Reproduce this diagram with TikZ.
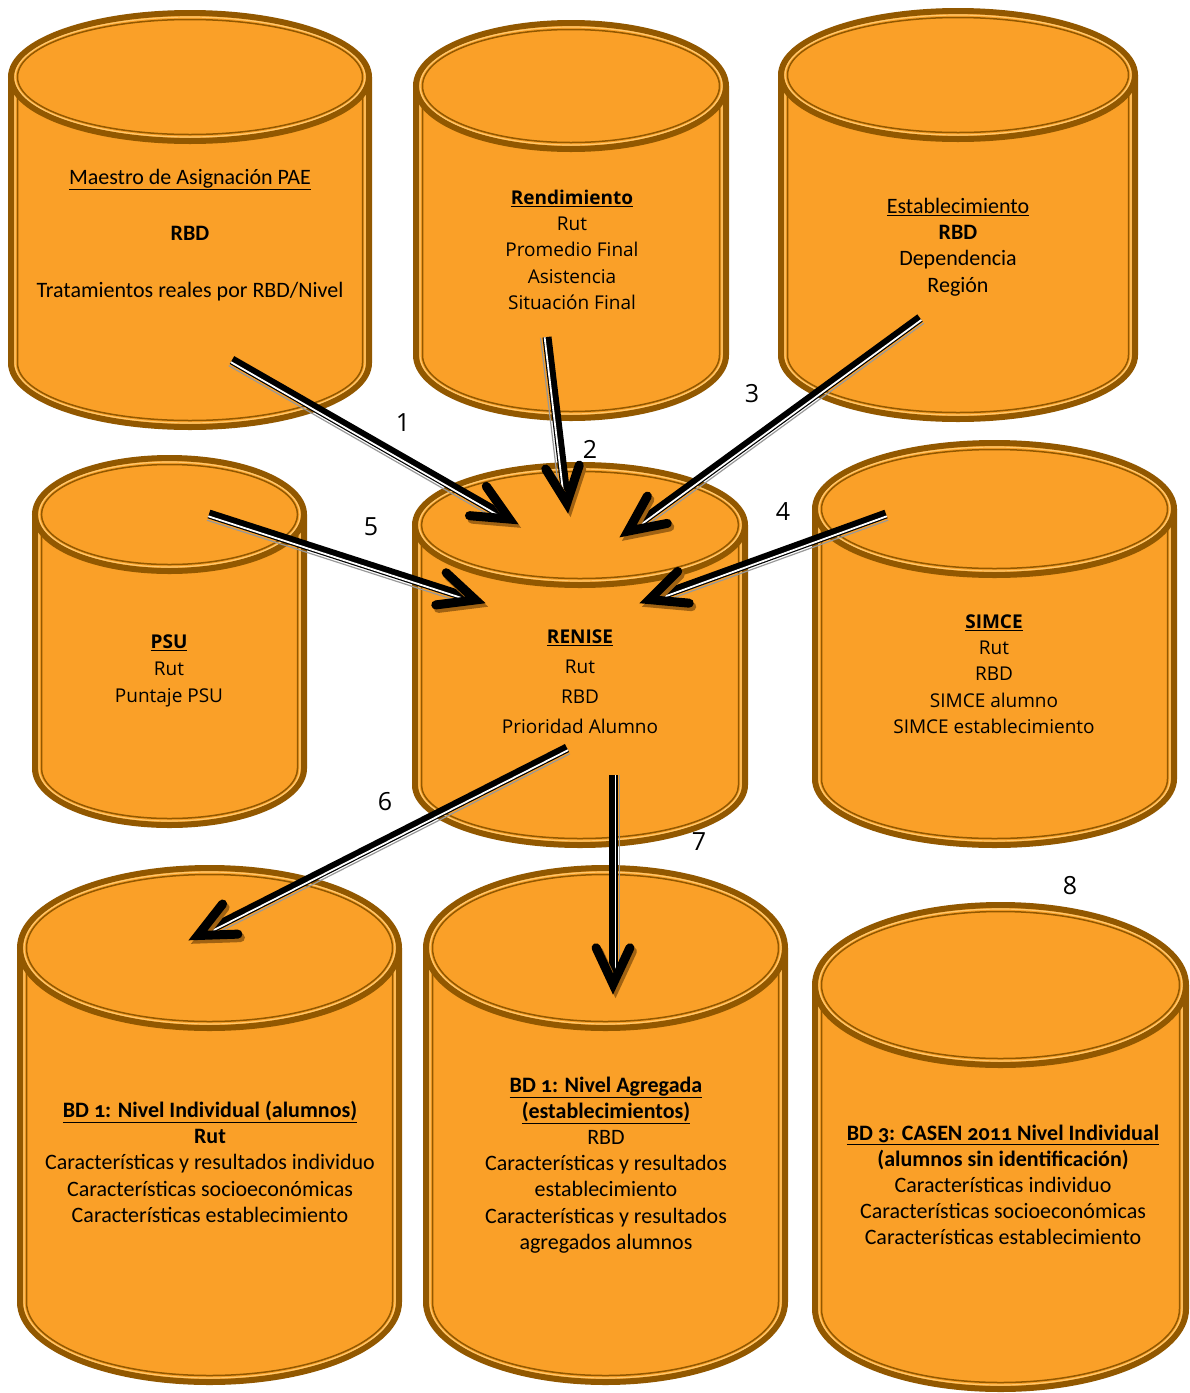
\documentclass[tikz,border=0pt]{standalone}
\usepackage{fontspec}
\setmainfont{Carlito}[Numbers=OldStyle]
\newfontfamily\osans{Open Sans}
\usetikzlibrary{calc}
\definecolor{cylor}{RGB}{250,160,40}
\definecolor{cylbr}{RGB}{146,88,0}
\definecolor{cyllt}{RGB}{255,200,110}
\definecolor{headsh}{RGB}{160,98,18}

\newcommand\dbcyl[5]{% cx, top y, rx, ry, bottom y (pixel units)
  \pgfmathsetmacro\cA{#2+#4}%
  \pgfmathsetmacro\cB{#5-#4}%
  \pgfmathsetmacro\xL{#1-#3}%
  \pgfmathsetmacro\xR{#1+#3}%
  \pgfmathsetmacro\rxa{#3-4}\pgfmathsetmacro\rya{#4-4}%
  \pgfmathsetmacro\rxb{#3-6.5}\pgfmathsetmacro\ryb{#4-6.5}%
  \fill[cylor] (\xL,\cA) -- (\xL,\cB) arc[start angle=180,end angle=360,x radius=#3pt,y radius=#4pt] -- (\xR,\cA) -- cycle;
  \draw[cylbr,line width=6pt] (\xL,\cA) -- (\xL,\cB) arc[start angle=180,end angle=360,x radius=#3pt,y radius=#4pt] -- (\xR,\cA);
  \draw[cyllt,line width=1.2pt] (\xL+4,\cA) -- (\xL+4,\cB) arc[start angle=180,end angle=360,x radius=\rxa pt,y radius=\rya pt] -- (\xR-4,\cA);
  \draw[cylbr,line width=1.5pt] (\xL+6.5,\cA) -- (\xL+6.5,\cB) arc[start angle=180,end angle=360,x radius=\rxb pt,y radius=\ryb pt] -- (\xR-6.5,\cA);
  \fill[cylor] (#1,\cA) ellipse[x radius=#3pt,y radius=#4pt];
  \draw[cylbr,line width=6pt] (#1,\cA) ellipse[x radius=#3pt,y radius=#4pt];
  \draw[cyllt,line width=1.2pt] (#1,\cA) ellipse[x radius=\rxa pt,y radius=\rya pt];
  \draw[cylbr,line width=1.5pt] (#1,\cA) ellipse[x radius=\rxb pt,y radius=\ryb pt];
}

\newcommand\flow[4]{% start, tip, side angle, opposite angle
  \coordinate (fE) at ($(#2)!14pt!(#1)$);
  \coordinate (fV) at ($(#2)!10pt!(#1)$);
  \draw[line width=1.2pt, black!40] ($(#1)!6.5pt!#3:(#2)$) -- ($(fE)!6.5pt!#4:(#1)$);
  \draw[line width=9pt, black] (#1) -- (fE);
  \draw[line width=1.8pt, white] ($(#1)!2.4pt!#3:(#2)$) -- ($(fE)!2.4pt!#4:(#1)$);
  \draw[headstroke, headsh, transform canvas={shift={(2.5pt,-3.5pt)}}] ($(fV)!40pt!25:(#1)$) -- (fV) -- ($(fV)!40pt!-25:(#1)$);
  \draw[headstroke, black] ($(fV)!40pt!25:(#1)$) -- (fV) -- ($(fV)!40pt!-25:(#1)$);
}

\tikzset{
  headstroke/.style={line width=9pt, line cap=round, line join=miter},
  ctext/.style={align=center, inner sep=0pt, anchor=north, font=\fontsize{22}{#1}\selectfont},
  otext/.style={align=center, inner sep=0pt, anchor=north, font=\osans\fontsize{19}{#1}\selectfont},
  num/.style={font=\osans\fontsize{25}{30}\selectfont, inner sep=0pt},
}

\begin{document}
\begin{tikzpicture}[x=1pt,y=-1pt]
\useasboundingbox (0,0) rectangle (1190,1393);
\fill[white] (0,0) rectangle (1190,1393);
\clip (0,0) rectangle (1190,1393);

% cylinders
\dbcyl{190}{13}{179}{64}{427}
\node[ctext=26.4] (maestro) at (190,165.5) {\strut\underline{Maestro de Asignación PAE}\\[29.6pt]\textbf{RBD}\\[30.6pt]Tratamientos reales por RBD/Nivel};

\dbcyl{571}{23}{155}{63}{418}
\node[otext=26.3] (rend) at (572,185.6) {\strut\underline{\textbf{Rendimiento}}\\Rut\\Promedio Final\\Asistencia\\Situación Final};

\dbcyl{958}{11}{177}{64}{419}
\node[ctext=26.3] (estab) at (958,194.6) {\strut\underline{Establecimiento}\\\textbf{RBD}\\Dependencia\\Región};

\dbcyl{169.5}{458}{134.5}{56.5}{825}
\node[otext=27] (psu) at (169,629.1) {\strut\underline{\textbf{PSU}}\\Rut\\Puntaje PSU};

\dbcyl{580}{465}{165}{60}{845}
\node[otext=30] (renise) at (580,622) {\strut\underline{\textbf{RENISE}}\\Rut\\RBD\\Prioridad Alumno};

\dbcyl{994.5}{443}{179.5}{66}{845}
\node[otext=26.3] (simce) at (994,609.6) {\strut\underline{\textbf{SIMCE}}\\Rut\\RBD\\SIMCE alumno\\SIMCE establecimiento};

\dbcyl{209.5}{868}{189.5}{80}{1382}
\node[ctext=26.4] (bdind) at (210,1098.5) {\strut\underline{\textbf{BD 1: Nivel Individual (alumnos)}}\\\textbf{Rut}\\Características y resultados individuo\\Características socioeconómicas\\Características establecimiento};

\dbcyl{605.5}{868}{179.5}{80}{1382}
\node[ctext=26.2] (bdagr) at (606,1073.5) {\strut\underline{\textbf{BD 1: Nivel Agregada}}\\\underline{\textbf{(establecimientos)}}\\RBD\\Características y resultados\\establecimiento\\Características y resultados\\agregados alumnos};

\dbcyl{1000.5}{905}{185.5}{80}{1389}
\node[ctext=26] (bdcasen) at (1003,1122.5) {\strut\underline{\textbf{BD 3: CASEN 2011 Nivel Individual}}\\\textbf{(alumnos sin identificación)}\\Características individuo\\Características socioeconómicas\\Características establecimiento};

% arrow end points
\coordinate (s1) at (232,360);  \coordinate (t1) at (518,524);
\coordinate (s2) at (547,337);  \coordinate (t2) at (568,513);
\coordinate (s3) at (920,318);  \coordinate (t3) at (620,537);
\coordinate (s4) at (886,514);  \coordinate (t4) at (640,603);
\coordinate (s5) at (209,514);  \coordinate (t5) at (485,603);
\coordinate (s6) at (567,748);  \coordinate (t6) at (189,940);
\coordinate (s7) at (613,775);  \coordinate (t7) at (613,994);

\flow{s1}{t1}{-90}{90}
\flow{s2}{t2}{-90}{90}
\flow{s3}{t3}{90}{-90}
\flow{s4}{t4}{90}{-90}
\flow{s5}{t5}{-90}{90}
\flow{s6}{t6}{90}{-90}
\flow{s7}{t7}{90}{-90}

% labels
\node[num] (n1) at (403,423) {1};
\node[num] (n2) at (590,449) {2};
\node[num] (n3) at (752,394) {3};
\node[num] (n4) at (783,512) {4};
\node[num] (n5) at (371,527) {5};
\node[num] (n6) at (385,802) {6};
\node[num] (n7) at (699,842) {7};
\node[num] (n8) at (1070,886) {8};
\end{tikzpicture}
\end{document}
